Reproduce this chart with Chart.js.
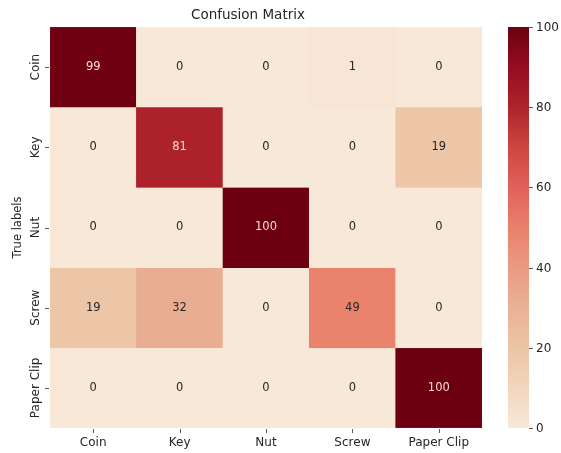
<!DOCTYPE html>
<html>
<head>
<meta charset="utf-8">
<script src="https://cdn.jsdelivr.net/npm/chart.js@4.4.1/dist/chart.umd.min.js"></script>
<style>
  html, body { margin: 0; padding: 0; background: #ffffff; }
  #wrap { width: 561px; height: 453px; position: relative; }
</style>
</head>
<body>
<div id="wrap"><canvas id="cm"></canvas></div>
<script>
// Class names (rows = true labels, columns = predicted labels)
const classes = ['Coin', 'Key', 'Nut', 'Screw', 'Paper Clip'];

// Confusion counts, one array per true label
const rowCoin  = [99, 0, 0, 1, 0];
const rowKey   = [0, 81, 0, 0, 19];
const rowNut   = [0, 0, 100, 0, 0];
const rowScrew = [19, 32, 0, 49, 0];
const rowClip  = [0, 0, 0, 0, 100];
const matrix = [rowCoin, rowKey, rowNut, rowScrew, rowClip];

// Colour bar range and ticks
const cbMin = 0;
const cbMax = 100;
const cbTicks = [0, 20, 40, 60, 80, 100];

// Sequential cream -> salmon -> dark red colormap
const cmapStops = [
  [0.00, [248, 232, 216]],
  [0.10, [242, 214, 190]],
  [0.20, [236, 196, 166]],
  [0.32, [233, 174, 146]],
  [0.40, [235, 154, 130]],
  [0.50, [233, 128, 108]],
  [0.60, [224, 98, 90]],
  [0.70, [205, 70, 64]],
  [0.80, [175, 35, 43]],
  [0.90, [148, 14, 32]],
  [1.00, [108, 0, 16]]
];

function cmap(t) {
  t = Math.max(0, Math.min(1, t));
  for (let i = 1; i < cmapStops.length; i++) {
    const [t1, c1] = cmapStops[i];
    const [t0, c0] = cmapStops[i - 1];
    if (t <= t1) {
      const f = (t - t0) / (t1 - t0);
      const c = c0.map((v, k) => Math.round(v + (c1[k] - v) * f));
      return `rgb(${c[0]},${c[1]},${c[2]})`;
    }
  }
  const c = cmapStops[cmapStops.length - 1][1];
  return `rgb(${c[0]},${c[1]},${c[2]})`;
}
const norm = v => (v - cbMin) / (cbMax - cbMin);

// One floating-bar dataset per row; each bar spans its row band on the y scale
const datasets = matrix.map((row, r) => ({
  label: classes[r],
  data: row.map(() => [r - 0.5, r + 0.5]),
  values: row,
  backgroundColor: row.map(v => cmap(norm(v))),
  borderColor: row.map(v => cmap(norm(v))),
  borderWidth: 0.5,
  borderSkipped: false,
  grouped: false,
  barPercentage: 1,
  categoryPercentage: 1
}));

const FONT = "'DejaVu Sans', sans-serif";
const TEXT = '#262626';
const TICK = '#333333';

// Cell annotations
const annotate = {
  id: 'annotate',
  afterDatasetsDraw(chart) {
    const ctx = chart.ctx;
    ctx.save();
    ctx.font = `11.5px ${FONT}`;
    ctx.textAlign = 'center';
    ctx.textBaseline = 'middle';
    chart.data.datasets.forEach((ds, di) => {
      const meta = chart.getDatasetMeta(di);
      meta.data.forEach((bar, ci) => {
        const v = ds.values[ci];
        ctx.fillStyle = norm(v) > 0.6 ? '#f4dcd6' : TEXT;
        ctx.fillText(String(v), bar.x, (bar.y + bar.base) / 2);
      });
    });
    ctx.restore();
  }
};

// Tick marks, rotated y tick labels, axis title, chart title and colour bar
const decorations = {
  id: 'decorations',
  afterDraw(chart) {
    const ctx = chart.ctx;
    const area = chart.chartArea;
    const x = chart.scales.x;
    const y = chart.scales.y;
    ctx.save();

    // tick marks on both axes
    ctx.strokeStyle = TICK;
    ctx.lineWidth = 0.8;
    classes.forEach((_, i) => {
      const px = Math.round(x.getPixelForValue(i)) + 0.5;
      ctx.beginPath();
      ctx.moveTo(px, area.bottom + 1);
      ctx.lineTo(px, area.bottom + 5);
      ctx.stroke();
      const py = Math.round(y.getPixelForValue(i)) + 0.5;
      ctx.beginPath();
      ctx.moveTo(area.left - 5, py);
      ctx.lineTo(area.left - 1, py);
      ctx.stroke();
    });

    ctx.fillStyle = TEXT;
    ctx.textAlign = 'center';
    ctx.textBaseline = 'middle';

    // y tick labels
    ctx.font = `12px ${FONT}`;
    classes.forEach((name, i) => {
      const py = y.getPixelForValue(i);
      ctx.save();
      ctx.translate(36, py);
      ctx.rotate(-Math.PI / 2);
      ctx.fillText(name, 0, 0);
      ctx.restore();
    });

    // y axis title
    ctx.font = `11.5px ${FONT}`;
    ctx.save();
    ctx.translate(18, (area.top + area.bottom) / 2);
    ctx.rotate(-Math.PI / 2);
    ctx.fillText('True labels', 0, 0);
    ctx.restore();

    // chart title
    ctx.font = `13.5px ${FONT}`;
    ctx.fillText('Confusion Matrix', 248, 15);

    // colour bar, mapped onto the heatmap's vertical pixel range
    const toPx = v => y.getPixelForValue(y.max - norm(v) * (y.max - y.min));
    const x0 = 508, x1 = 529;
    const top = toPx(cbMax), bot = toPx(cbMin);
    const grad = ctx.createLinearGradient(0, bot, 0, top);
    for (let k = 0; k <= 50; k++) grad.addColorStop(k / 50, cmap(k / 50));
    ctx.fillStyle = grad;
    ctx.fillRect(x0, top, x1 - x0, bot - top);

    ctx.strokeStyle = TICK;
    ctx.lineWidth = 0.8;
    ctx.fillStyle = TEXT;
    ctx.font = `12px ${FONT}`;
    ctx.textAlign = 'left';
    cbTicks.forEach(t => {
      const py = Math.round(toPx(t)) + 0.5;
      ctx.beginPath();
      ctx.moveTo(x1, py);
      ctx.lineTo(x1 + 4, py);
      ctx.stroke();
      ctx.fillText(String(t), x1 + 7, py);
    });
    ctx.restore();
  }
};

new Chart(document.getElementById('cm'), {
  type: 'bar',
  data: { labels: classes, datasets },
  options: {
    responsive: true,
    maintainAspectRatio: false,
    animation: false,
    layout: { padding: { top: 27, right: 79, bottom: 0, left: 0 } },
    plugins: {
      legend: { display: false },
      tooltip: { enabled: false },
      title: { display: false }
    },
    scales: {
      x: {
        type: 'category',
        offset: true,
        grid: { display: false },
        border: { display: false },
        ticks: { color: TEXT, font: { family: FONT, size: 12 }, padding: 0, maxRotation: 0 },
        afterFit: s => { s.height = 25; }
      },
      y: {
        type: 'linear',
        min: -0.5,
        max: 4.5,
        reverse: true,
        afterBuildTicks: s => { s.ticks = classes.map((_, i) => ({ value: i })); },
        grid: { display: false },
        border: { display: false },
        ticks: { callback: () => '', padding: 0 },
        afterFit: s => { s.width = 50; }
      }
    }
  },
  plugins: [annotate, decorations]
});
</script>
</body>
</html>
